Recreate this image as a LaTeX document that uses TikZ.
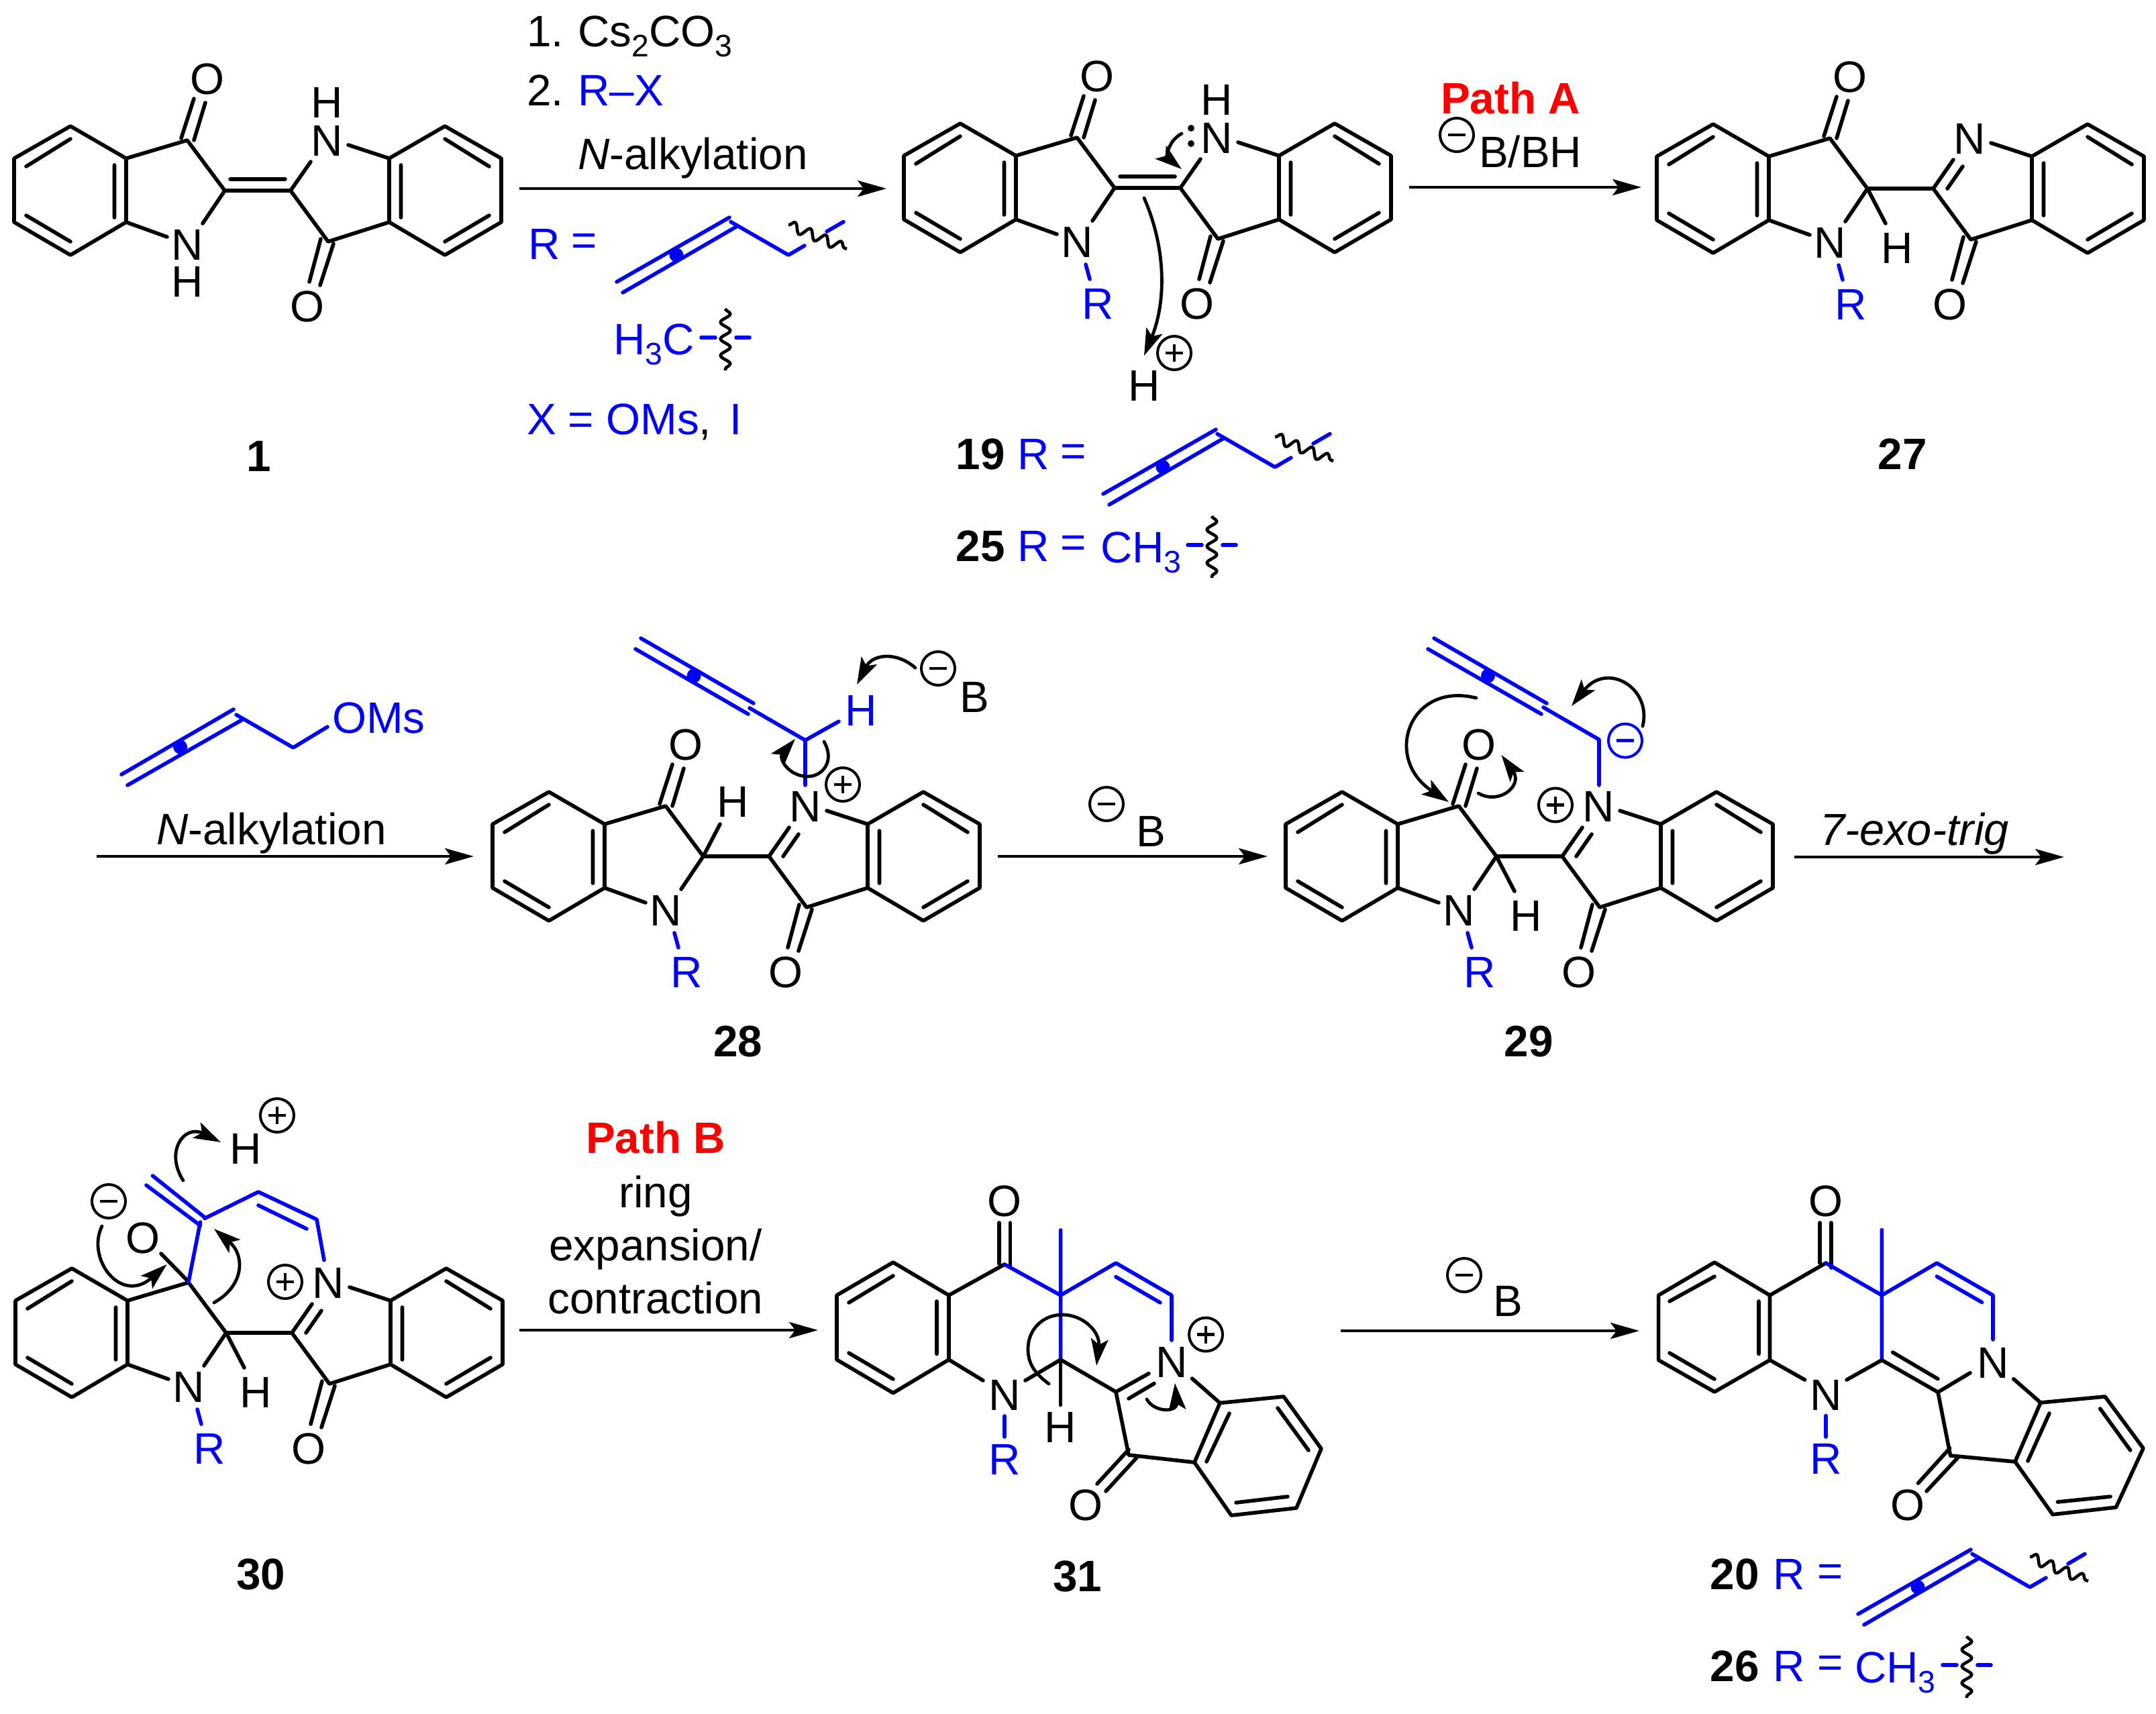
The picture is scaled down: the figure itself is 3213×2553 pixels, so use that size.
\documentclass[tikz,border=0pt]{standalone}
\usepackage{fontspec}
\setmainfont{Liberation Sans}
\usetikzlibrary{arrows.meta,decorations.pathmorphing}
\tikzset{
  every node/.style={inner sep=0pt,outer sep=0pt,font=\fontsize{16.4}{19}\selectfont},
  bond/.style={line width=1.4pt,line cap=round,line join=round},
  bbond/.style={bond,blue},
  rxn/.style={line width=1.2pt,-{Stealth[length=10.7pt,width=6pt,inset=2.2pt]}},
  curv/.style={line width=1.2pt,line cap=round,-{Stealth[length=10pt,width=6.4pt,inset=2.2pt]}},
  wavy/.style={line width=1.15pt,decorate,decoration={snake,segment length=6.2pt,amplitude=1.8pt}},
  chg/.style={line width=1pt},
  blab/.style={blue},
  num/.style={font=\fontsize{16.4}{19}\selectfont\bfseries},
  txt/.style={anchor=base west},
  mid/.style={anchor=base,align=center}
}
\newcommand{\subs}[1]{\raisebox{-0.24em}{\fontsize{11.6}{12}\selectfont #1}}
\newcommand{\chgp}[3][black]{\draw[chg,#1] (#2,#3) circle[radius=25];
  \draw[chg,#1,line width=1.05pt] (#2-13,#3)--(#2+13,#3) (#2,#3-13)--(#2,#3+13);}
\newcommand{\chgm}[3][black]{\draw[chg,#1] (#2,#3) circle[radius=25];
  \draw[chg,#1,line width=1.15pt] (#2-13,#3)--(#2+13,#3);}
% left half of the indigo skeleton
\newcommand{\skelL}[1]{%
  \draw[bond] (105,188)--(188,236)--(188,331)--(105,380)--(21,331)--(21,236)--cycle;
  \draw[bond] (39,248)--(105,207) (39,321)--(105,360) (170.5,246)--(170.5,324);
  \draw[bond] (188,236)--(279,209)--(335,284)--(302,333);
  \draw[bond] (188,331)--(249,353);
  \node (#1N) at (279,365) {N};}
% right half
\newcommand{\skelR}[1]{%
  \draw[bond] (663,188)--(580,236)--(580,331)--(663,380)--(747,331)--(747,236)--cycle;
  \draw[bond] (729,248)--(663,207) (729,321)--(663,360) (597.5,246)--(597.5,324);
  \draw[bond] (433,284)--(489,360)--(580,331);
  \draw[bond] (519,216)--(580,236);
  \draw[bond] (478,356)--(461,420) (497,363)--(477,425);
  \node (#1Np) at (487,210) {N};
  \node (#1Op) at (458,457) {O};}
\newcommand{\carbL}[1]{%
  \draw[bond] (270,206)--(289,147) (289,209)--(306,153);
  \node (#1O) at (309,118) {O};}
\newcommand{\cdbl}{\draw[bond] (335,284)--(433,284) (343,267)--(425,267) (433,284)--(463,241);}
\newcommand{\imine}{\draw[bond] (335,284)--(433,284)--(463,241) (454,284)--(477,251);}
\newcommand{\hdown}[1]{\draw[bond] (335,284)--(362,336); \node (#1H) at (379,373) {H};}
\newcommand{\nR}[1]{\draw[bbond] (292,398)--(298,420); \node[blab] (#1R) at (310,457) {R};}
% butadienyl R group
\newcommand{\allylR}[3]{\begin{scope}[shift={(#2,#3)}]
  \draw[bbond] (1644,736)--(1812,640) (1653,752)--(1822,654);
  \draw[bbond] (1814,646.5)--(1900,696)--(1924,682) (1957,661)--(1982,646.5);
  \draw[wavy] (1900,651)--(1987,687);
  \fill[blue] (1733,696) circle[radius=10.5];
\end{scope}}
\newcommand{\methR}[2]{\begin{scope}[shift={(#1,#2)}]
  \draw[bbond] (1770,812)--(1791,812) (1822,812)--(1842,812);
  \draw[wavy] (1806,769)--(1806,861);
\end{scope}}
\begin{document}
\begin{tikzpicture}[x=0.25pt,y=-0.25pt]
\useasboundingbox (0,0) rectangle (3213,2553);
\fill[white] (0,0) rectangle (3213,2553);

%% ---------- compound 1
\begin{scope}
  \skelL{a} \skelR{a} \carbL{a} \cdbl
  \node (aH1) at (279,420) {H};
  \node (aH2) at (487,153) {H};
  \node[num] (n1) at (386,680) {1};
\end{scope}

%% ---------- reagents, first arrow
\node[txt] (r1) at (785,69) {1.\hspace{0.33em}Cs\subs{2}CO\subs{3}};
\node[txt] (r2) at (785,157) {2.\hspace{0.33em}{\color{blue}R–X}};
\node[txt] (r3) at (861,252.5) {\textit{N}-alkylation};
\coordinate (a1s) at (774,281); \coordinate (a1e) at (1321,281);
\draw[rxn] (a1s)--(a1e);
\node[blab] (r4) at (811,364) {R};
\node[blab] (r5) at (871,364) {=};
\allylR{top}{-725}{-316}
\node[txt,blab] (r6) at (914,528) {H\subs{3}C};
\methR{-725}{-309}
\node[txt,blab] (r7) at (785,647) {X = OMs{\color{black},}\hspace{0.14em} I};

%% ---------- compound 19
\begin{scope}[shift={(1326,-4)}]
  \skelL{b} \skelR{b} \carbL{b} \cdbl \nR{b}
  \node (bH) at (487,153) {H};
  \fill (449,195) circle[radius=5] (449,218) circle[radius=5];
\end{scope}
\draw[curv] (1761,199) .. controls (1738,212) and (1740,235) .. (1761,252);
\draw[curv] (1705,295) .. controls (1738,370) and (1738,450) .. (1705,530);
\node (bHp) at (1705,575) {H};
\chgp{1750}{526}
\node[num] (n19) at (1461,677) {19};
\node[blab] (l19a) at (1540,677) {R};
\node[blab] (l19b) at (1600,678) {=};
\allylR{mid}{0}{0}
\node[num] (n25) at (1461,814) {25};
\node[blab] (l25a) at (1540,814) {R};
\node[blab] (l25b) at (1600,814) {=};
\node[txt,blab] (l25c) at (1640,838) {CH\subs{3}};
\methR{0}{0}

%% ---------- Path A
\node[font=\fontsize{16.4}{19}\selectfont\bfseries,red] (pa) at (2251,146) {Path A};
\chgm{2171}{201}
\node[txt] (pa2) at (2204,249) {B/BH};
\coordinate (a2s) at (2100,279); \coordinate (a2e) at (2446,279);
\draw[rxn] (a2s)--(a2e);

%% ---------- compound 27
\begin{scope}[shift={(2448,-3)}]
  \skelL{c} \skelR{c} \carbL{c} \imine \hdown{c} \nR{c}
\end{scope}
\node[num] (n27) at (2835,677) {27};

%% ---------- OMs reagent
\draw[bbond] (181,1154)--(348,1057) (190,1170)--(360,1073);
\draw[bbond] (352,1065)--(437,1114)--(488,1083);
\fill[blue] (268.6,1113) circle[radius=10.5];
\node[txt,blab] (oms) at (495,1092.7) {OMs};
\node[txt] (na2) at (233,1258) {\textit{N}-alkylation};
\coordinate (a3s) at (144,1276); \coordinate (a3e) at (706,1276);
\draw[rxn] (a3s)--(a3e);

%% ---------- compound 28
\begin{scope}[shift={(713,992)}]
  \skelL{d} \skelR{d} \carbL{d} \imine \nR{d}
  \draw[bond] (335,284)--(360,236);
  \node (dH) at (379,203) {H};
\end{scope}
\chgp{1256}{1169}
\draw[bbond] (1200,1170)--(1200,1103)--(1250,1075);
\draw[bbond] (1200,1103)--(1117,1055);
\draw[bbond] (1115,1064)--(947,967) (1123,1048)--(955,951);
\fill[blue] (1034,1007) circle[radius=10.5];
\node[blab] (dHb) at (1283,1058.5) {H};
\chgm{1398}{996}
\node (dB) at (1452,1039) {B};
\draw[curv] (1364,995) .. controls (1335,970) and (1300,975) .. (1277,1020);
\draw[curv] (1228,1105) .. controls (1245,1135) and (1225,1157) .. (1204,1157)
  .. controls (1175,1157) and (1160,1130) .. (1185,1101);
\node[num] (n28) at (1099.5,1552) {28};
\coordinate (a4s) at (1487,1276); \coordinate (a4e) at (1889,1276);
\draw[rxn] (a4s)--(a4e);
\chgm{1649}{1198}
\node[txt] (a4B) at (1693,1261) {B};

%% ---------- compound 29
\begin{scope}[shift={(1895,992)}]
  \skelL{e} \skelR{e} \carbL{e} \imine \hdown{e} \nR{e}
\end{scope}
\chgp{2318}{1199.5}
\draw[bbond] (2383,1170)--(2383,1102)--(2300,1054);
\draw[bbond] (2297,1064)--(2128,967) (2305,1048)--(2137,951);
\fill[blue] (2217.5,1007) circle[radius=10.5];
\chgm[blue]{2422}{1103.6}
\draw[curv] (2448,1082) .. controls (2462,1025) and (2395,985) .. (2342,1052);
\draw[curv] (2200,1040) .. controls (2100,1015) and (2060,1130) .. (2159,1195);
\draw[curv] (2203,1182) .. controls (2235,1200) and (2270,1170) .. (2237.5,1125);
\node[num] (n29) at (2278,1552) {29};
\node[txt,font=\fontsize{16.7}{19}\selectfont] (exo) at (2712,1259) {\textit{7-exo-trig}};
\coordinate (a5s) at (2674,1277); \coordinate (a5e) at (3076,1277);
\draw[rxn] (a5s)--(a5e);

%% ---------- compound 30
\begin{scope}[shift={(2,1702)}]
  \skelL{f} \skelR{f} \imine \hdown{f} \nR{f}
\end{scope}
\draw[bond] (281,1910)--(240,1868);
\node (fO) at (213,1844.5) {O};
\chgm{162}{1790}
\draw[curv] (152,1827) .. controls (128,1875) and (180,1945) .. (248.5,1884);
\draw[bbond] (281,1910)--(298.5,1821);
\draw[bbond] (298.5,1826)--(218,1766) (305,1814)--(227.5,1752);
\draw[bbond] (305,1815.5)--(385,1776)--(472,1817)--(483,1877.6);
\draw[bbond] (385,1796)--(457,1831);
\chgp{425}{1910}
\node (fHp) at (366,1711.5) {H};
\chgp{413}{1662}
\draw[curv] (273,1759) .. controls (245,1715) and (275,1675) .. (329,1702);
\draw[curv] (319,1941) .. controls (365,1915) and (365,1870) .. (319,1831);
\node[num] (n30) at (389,2346) {30};

%% ---------- Path B
\node[font=\fontsize{16.4}{19}\selectfont\bfseries,red] (pb) at (977,1695) {Path B};
\node[mid] (pb1) at (977,1799) {ring};
\node[mid] (pb2) at (977,1878) {expansion/};
\node[mid] (pb3) at (977,1957) {contraction};
\coordinate (a6s) at (774,1982); \coordinate (a6e) at (1219,1982);
\draw[rxn] (a6s)--(a6e);

%% ---------- compound 31
\draw[bond] (1331,1881)--(1414,1930)--(1414,2026)--(1331,2075.6)--(1247,2026)--(1247,1930)--cycle;
\draw[bond] (1265,1941)--(1331,1901) (1265,2016)--(1331,2055) (1396,1939)--(1396,2017.5);
\draw[bond] (1414,1930)--(1497,1884);
\draw[bond] (1489,1822)--(1489,1883) (1505.6,1822)--(1505.6,1887);
\node (gO) at (1497,1790) {O};
\draw[bbond] (1497,1884)--(1580.6,1930) (1580.6,1833)--(1580.6,2026);
\draw[bbond] (1580.6,1930)--(1663,1882)--(1746,1930)--(1746,1997);
\draw[bbond] (1663,1902.6)--(1729,1941);
\draw[bond] (1580.6,2026)--(1580.6,2093.5);
\node (gH) at (1580,2126.6) {H};
\draw[bond] (1528,2057)--(1580.6,2026)--(1663,2074)--(1712,2046.6);
\draw[bond] (1682,2084)--(1720,2061.5);
\draw[bond] (1414,2026)--(1465,2057);
\node (gN) at (1497,2079) {N};
\draw[bbond] (1497,2110)--(1497,2141);
\node[blab] (gR) at (1497,2175) {R};
\node (gNp) at (1746,2030) {N};
\chgp{1797}{1988.5}
\draw[bond] (1776.5,2054)--(1818,2090.5);
\draw[bond] (1818,2090.5)--(1913,2081)--(1969,2158.6)--(1932,2247)--(1835,2258)--(1780,2179)--cycle;
\draw[bond] (1832,2106)--(1798,2178) (1904,2098)--(1950,2161) (1842,2239)--(1919,2230);
\draw[bond] (1663,2074)--(1682,2168)--(1780,2179);
\draw[bond] (1682,2160)--(1635,2211) (1694,2172)--(1648,2222);
\node (gOp) at (1618,2243) {O};
\draw[curv] (1563,2062) .. controls (1540,2045) and (1532,2030) .. (1532,2010)
  .. controls (1532,1980) and (1555,1959) .. (1583,1959)
  .. controls (1615,1959) and (1640,1985) .. (1634,2035);
\draw[curv] (1709,2085) .. controls (1720,2105) and (1755,2105) .. (1751,2061);
\node[num] (n31) at (1605.6,2348.6) {31};

%% ---------- last arrow
\chgm{2182}{1900}
\node[txt] (a7B) at (2225,1961) {B};
\coordinate (a7s) at (1998,1983); \coordinate (a7e) at (2443,1983);
\draw[rxn] (a7s)--(a7e);

%% ---------- compound 20
\draw[bond] (2555,1881)--(2637.5,1930)--(2637.5,2026.6)--(2555,2074)--(2471.6,2026.6)--(2471.6,1930)--cycle;
\draw[bond] (2488,1939)--(2555,1902) (2488,2016)--(2555,2055) (2621,1939)--(2621,2017.5);
\draw[bond] (2637.5,1930)--(2721,1882);
\draw[bond] (2712,1822)--(2712,1882) (2729,1822)--(2729,1889);
\node (hO) at (2721,1790) {O};
\draw[bbond] (2721,1882)--(2804.4,1930) (2804.4,1832.6)--(2804.4,2026.6);
\draw[bbond] (2804.4,1930)--(2886.4,1882)--(2970,1930)--(2970,1996);
\draw[bbond] (2886.4,1902)--(2953.6,1940.5);
\draw[bond] (2752,2056)--(2804.4,2026.6)--(2888,2074.4)--(2936,2045.7);
\draw[bond] (2820.6,2015)--(2888,2054.7);
\draw[bond] (2637.5,2026.6)--(2689.6,2056);
\node (hN) at (2721,2078.7) {N};
\draw[bbond] (2721,2109.5)--(2721,2141);
\node[blab] (hR) at (2721,2174) {R};
\node (hNp) at (2970,2031) {N};
\draw[bond] (3000.7,2054.7)--(3041,2090);
\draw[bond] (3041,2090)--(3137,2081)--(3194,2158)--(3153.4,2246)--(3059,2256.7)--(3003,2178)--cycle;
\draw[bond] (3054,2106)--(3022,2177) (3129.7,2099)--(3174.7,2161) (3066.4,2238)--(3145,2230);
\draw[bond] (2888,2074.4)--(2906.6,2169)--(3003,2178);
\draw[bond] (2905.6,2158)--(2858.5,2210) (2918,2171.6)--(2871,2222);
\node (hOp) at (2843,2243) {O};
\node[num] (n20) at (2585,2346) {20};
\node[blab] (l20a) at (2666,2346) {R};
\node[blab] (l20b) at (2727.5,2347) {=};
\allylR{low}{1125}{1669}
\node[num] (n26) at (2585,2483) {26};
\node[blab] (l26a) at (2666,2483) {R};
\node[blab] (l26b) at (2727.5,2483) {=};
\node[txt,blab] (l26c) at (2764,2507) {CH\subs{3}};
\methR{1125}{1669}
\end{tikzpicture}
\end{document}
